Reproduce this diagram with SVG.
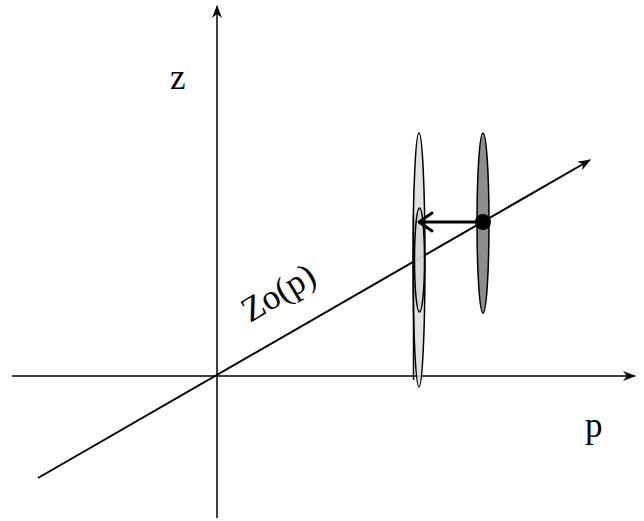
<svg xmlns="http://www.w3.org/2000/svg" width="644" height="521" viewBox="0 0 644 521">
<defs>
<marker id="ah" markerWidth="14" markerHeight="10" refX="12" refY="5" orient="auto" markerUnits="userSpaceOnUse">
<path d="M0,0 L13,5 L0,10 L4,5 Z" fill="#000"/>
</marker>
</defs>
<style>
.ax{stroke:#000;stroke-width:1.5;fill:none}
.dg{stroke:#000;stroke-width:2;fill:none}
.lbl{font-family:"Liberation Serif","Times New Roman",serif;font-size:35px;fill:#000}
.e{stroke:#000;stroke-width:1.5}
</style>
<rect width="644" height="521" fill="#fff"/>
<g id="connectors">
<line class="ax" x1="12" y1="376" x2="635" y2="376" marker-end="url(#ah)"/>
<line class="ax" x1="217" y1="518" x2="217" y2="6" marker-end="url(#ah)"/>
</g>
<g id="disk-dark">
<ellipse class="e" cx="483" cy="223" rx="6" ry="90" fill="#8c8d90"/>
</g>
<g id="diagonal">
<line class="dg" x1="38" y1="478" x2="590" y2="160" marker-end="url(#ah)"/>
</g>
<g id="disk-light">
<ellipse class="e" cx="419" cy="260" rx="6" ry="127" fill="#dcdde0" fill-opacity="0.85"/>
<ellipse class="e" cx="419.5" cy="260" rx="5" ry="52" fill="#d0d1d4" fill-opacity="0.6"/>
<line stroke="#000" stroke-width="1.5" x1="413.5" y1="215" x2="413.5" y2="380"/>
</g>
<g id="point">
<circle cx="483" cy="222" r="8" fill="#000"/>
<line stroke="#000" stroke-width="3" x1="483" y1="222" x2="420" y2="222"/>
<polyline points="432,213 419,222 432,231" fill="none" stroke="#000" stroke-width="3" stroke-linecap="round" stroke-linejoin="round"/>
</g>
<g id="labels">
<text class="lbl" x="170" y="89">z</text>
<text class="lbl" x="585" y="437">p</text>
<text class="lbl" transform="translate(250,323) rotate(-31)">Zo(p)</text>
</g>
</svg>
